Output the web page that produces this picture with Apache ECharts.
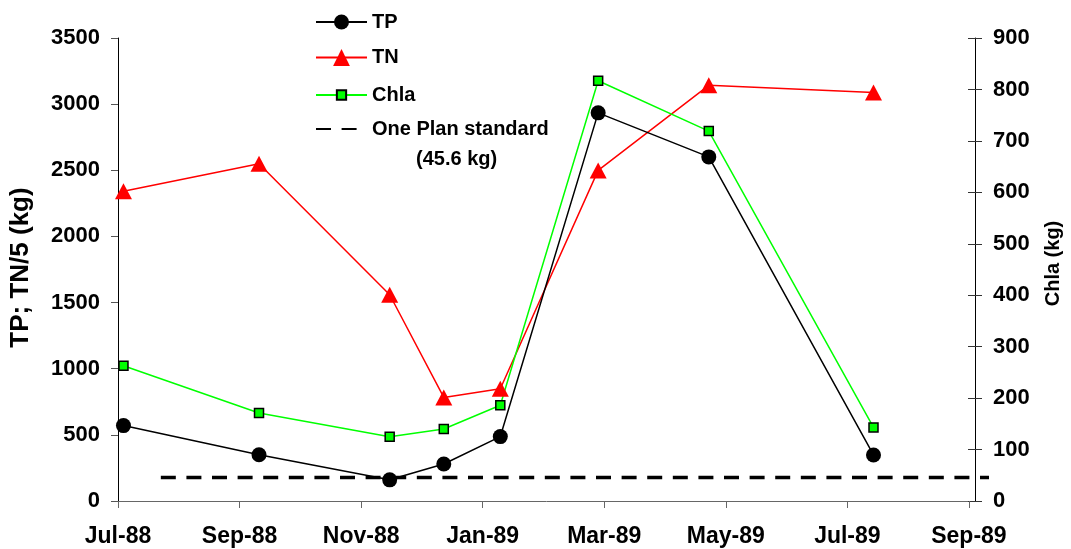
<!DOCTYPE html>
<html>
<head>
<meta charset="utf-8">
<script src="https://cdn.jsdelivr.net/npm/echarts@6/dist/echarts.min.js"></script>
<style>
  html, body { margin: 0; padding: 0; background: #ffffff; }
  #chart { width: 1071px; height: 549px; }
</style>
</head>
<body>
<div id="chart"></div>
<script>
// Sampling dates, expressed as months after 1 July 1988
const sampleMonths = [0.09, 2.32, 4.47, 5.36, 6.29, 7.90, 9.72, 12.43];
// Loads (kg)
const tpLoad = [570, 350, 160, 280, 487, 2934, 2601, 348];
const tnLoadDiv5 = [2341, 2549, 1559, 783, 849, 2499, 3142, 3088];
const chlaLoad = [263, 171, 125, 140, 186, 817, 719, 143];
// Date axis ticks
const monthTicks = [0, 2, 4, 6, 8, 10, 12, 14];
const monthTickLabels = ['Jul-88', 'Sep-88', 'Nov-88', 'Jan-89', 'Mar-89', 'May-89', 'Jul-89', 'Sep-89'];
// One Plan standard line (Chla axis units)
const standardMonths = [0.72, 14.33];
const standardValue = 45.6;

const FONT = "'Liberation Sans', Arial, Helvetica, sans-serif";
const pairs = (xs, ys) => xs.map((x, i) => [x, ys[i]]);

// Plot frame
const GRID = { left: 117, right: 96, top: 38, bottom: 48 };
const MONTH_MAX = 14.1;
// A slightly wider frame, sharing the month scale, lets the standard line run past the Chla axis
const WIDE_RIGHT = 80;
const plotWidth = 1071 - GRID.left - GRID.right;
const WIDE_MONTH_MAX = MONTH_MAX * (1071 - GRID.left - WIDE_RIGHT) / plotWidth;

const chart = echarts.init(document.getElementById('chart'), null, { renderer: 'canvas' });

const legendText = { fontFamily: FONT, fontWeight: 'bold', fontSize: 20, color: '#000', lineHeight: 20 };
const legendBase = { orient: 'vertical', left: 315, padding: 0, itemWidth: 51, selectedMode: false, textStyle: legendText };
const plainNumber = v => String(v);

chart.setOption({
  animation: false,
  backgroundColor: '#ffffff',
  title: {
    text: '(45.6 kg)', left: 416, top: 149, padding: 0,
    textStyle: { fontFamily: FONT, fontWeight: 'bold', fontSize: 20, color: '#000' }
  },
  legend: [
    Object.assign({}, legendBase, { top: 12, itemHeight: 18.75, data: ['TP'] }),
    Object.assign({}, legendBase, { top: 47.5, itemHeight: 21, data: ['TN'] }),
    Object.assign({}, legendBase, { top: 85, itemHeight: 11.6, data: ['Chla'] }),
    Object.assign({}, legendBase, {
      top: 119, itemHeight: 14, data: ['One Plan standard'],
      itemStyle: { color: 'rgba(0,0,0,0)', borderWidth: 0 }
    })
  ],
  grid: [
    Object.assign({ containLabel: false }, GRID),
    { left: GRID.left, right: WIDE_RIGHT, top: GRID.top, bottom: GRID.bottom, containLabel: false }
  ],
  xAxis: [
    {
      type: 'value', gridIndex: 0, min: 0, max: MONTH_MAX, interval: 2,
      axisLine: { show: true, lineStyle: { color: '#666', width: 1 } },
      axisTick: { show: true, inside: false, length: 7, customValues: monthTicks, lineStyle: { color: '#666' } },
      axisLabel: {
        customValues: monthTicks, margin: 24,
        fontFamily: FONT, fontWeight: 'bold', fontSize: 23, color: '#000',
        formatter: v => monthTickLabels[monthTicks.indexOf(Math.round(v))] || ''
      },
      splitLine: { show: false }
    },
    {
      type: 'value', gridIndex: 1, min: 0, max: WIDE_MONTH_MAX, show: false
    }
  ],
  yAxis: [
    {
      type: 'value', gridIndex: 0, position: 'left', min: 0, max: 3500, interval: 500,
      name: 'TP; TN/5 (kg)', nameLocation: 'middle', nameGap: 84,
      nameTextStyle: { fontFamily: FONT, fontWeight: 'bold', fontSize: 26, color: '#000', padding: [0, 0, 0, 4] },
      axisLine: { show: true, lineStyle: { color: '#000', width: 1 } },
      axisTick: { show: true, inside: false, length: 7, lineStyle: { color: '#555' } },
      axisLabel: { margin: 18, fontFamily: FONT, fontWeight: 'bold', fontSize: 22, color: '#000', formatter: plainNumber },
      splitLine: { show: false }
    },
    {
      type: 'value', gridIndex: 0, position: 'right', min: 0, max: 900, interval: 100,
      name: 'Chla (kg)', nameLocation: 'middle', nameGap: 68,
      nameTextStyle: { fontFamily: FONT, fontWeight: 'bold', fontSize: 20, color: '#000', padding: [0, 0, 0, 12] },
      axisLine: { show: true, lineStyle: { color: '#000', width: 1 } },
      axisTick: { show: true, inside: false, length: 7, lineStyle: { color: '#333' } },
      axisLabel: { margin: 18, fontFamily: FONT, fontWeight: 'bold', fontSize: 22, color: '#000', formatter: plainNumber },
      splitLine: { show: false }
    },
    {
      // inner half of the crossing ticks on the Chla axis
      type: 'value', gridIndex: 0, position: 'right', min: 0, max: 900, interval: 100,
      axisLine: { show: false },
      axisTick: { show: true, inside: true, length: 7, lineStyle: { color: '#333' } },
      axisLabel: { show: false },
      splitLine: { show: false }
    },
    {
      type: 'value', gridIndex: 1, min: 0, max: 900, show: false
    }
  ],
  series: [
    {
      name: 'One Plan standard', type: 'line', xAxisIndex: 1, yAxisIndex: 3,
      data: standardMonths.map(m => [m, standardValue]),
      symbol: 'none',
      itemStyle: { color: '#000000' },
      lineStyle: { color: '#000000', width: 3.5, type: [15, 10.6] },
      z: 2
    },
    {
      name: 'TN', type: 'line', xAxisIndex: 0, yAxisIndex: 0,
      data: pairs(sampleMonths, tnLoadDiv5),
      symbol: 'triangle', symbolSize: [17, 16],
      itemStyle: { color: '#ff0000' },
      lineStyle: { color: '#ff0000', width: 1.5 },
      z: 3
    },
    {
      name: 'Chla', type: 'line', xAxisIndex: 0, yAxisIndex: 1,
      data: pairs(sampleMonths, chlaLoad),
      symbol: 'rect', symbolSize: 9,
      itemStyle: { color: '#00ff00', borderColor: '#000000', borderWidth: 1.5 },
      lineStyle: { color: '#00ff00', width: 1.5 },
      z: 3
    },
    {
      name: 'TP', type: 'line', xAxisIndex: 0, yAxisIndex: 0,
      data: pairs(sampleMonths, tpLoad),
      symbol: 'circle', symbolSize: 15,
      itemStyle: { color: '#000000' },
      lineStyle: { color: '#000000', width: 1.5 },
      z: 4
    }
  ]
});
</script>
</body>
</html>
